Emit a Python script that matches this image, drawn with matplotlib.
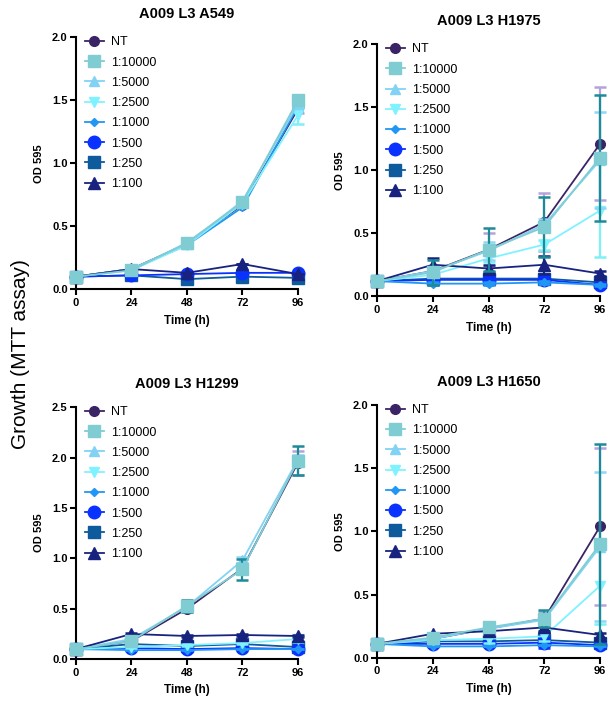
import numpy as np
import matplotlib
matplotlib.use("Agg")
import matplotlib.pyplot as plt
from matplotlib.lines import Line2D

plt.rcParams['font.family'] = ['Liberation Sans', 'DejaVu Sans']

hours = [0, 24, 48, 72, 96]
labels = ['NT', '1:10000', '1:5000', '1:2500', '1:1000', '1:500', '1:250', '1:100']
colors = ['#3b2466', '#7fcdd3', '#82d2f5', '#80f2ff', '#2196f3', '#0a32ff', '#0d5a9c', '#17237f']
err_colors = ['#b5a2dc', '#1d8a98', '#8fd6f3', '#7ff0f5', '#2196f3', '#0a32ff', '#0d5a9c', '#17237f']
markers = ['o', 's', '^', 'v', 'D', 'o', 's', '^']
msizes = [7, 8, 7, 7, 4.5, 9, 8, 8]
zorders = [4, 11, 9, 8, 7, 6, 5, 10]

titles = ['A009 L3 A549', 'A009 L3 H1975', 'A009 L3 H1299', 'A009 L3 H1650']
ymaxes = [2.0, 2.0, 2.5, 2.0]

# OD 595 per series (same order as labels)
a549 = [[0.10, 0.16, 0.36, 0.67, 1.43],
        [0.10, 0.15, 0.37, 0.69, 1.50],
        [0.10, 0.16, 0.36, 0.70, 1.47],
        [0.10, 0.15, 0.35, 0.68, 1.38],
        [0.10, 0.16, 0.35, 0.65, 1.45],
        [0.10, 0.11, 0.12, 0.13, 0.13],
        [0.10, 0.11, 0.08, 0.10, 0.09],
        [0.10, 0.16, 0.13, 0.20, 0.12]]
a549_err = [[0, 0.01, 0.02, 0.02, 0.03],
            [0, 0.01, 0.02, 0.03, 0.04],
            [0, 0.01, 0.01, 0.03, 0.03],
            [0, 0.01, 0.01, 0.02, 0.07],
            [0, 0, 0, 0, 0],
            [0, 0, 0, 0, 0],
            [0, 0, 0, 0, 0],
            [0, 0, 0, 0, 0]]

h1975 = [[0.12, 0.20, 0.37, 0.59, 1.21],
         [0.12, 0.19, 0.37, 0.55, 1.10],
         [0.12, 0.20, 0.36, 0.57, 1.08],
         [0.12, 0.17, 0.30, 0.41, 0.68],
         [0.12, 0.10, 0.10, 0.11, 0.09],
         [0.12, 0.13, 0.13, 0.13, 0.09],
         [0.12, 0.14, 0.14, 0.14, 0.11],
         [0.12, 0.25, 0.22, 0.25, 0.18]]
h1975_err = [[0, 0.04, 0.13, 0.23, 0.45],
             [0, 0.10, 0.17, 0.24, 0.50],
             [0, 0.03, 0.07, 0.04, 0.38],
             [0, 0.02, 0.03, 0.04, 0.37],
             [0, 0.01, 0.01, 0.01, 0.01],
             [0, 0.01, 0.01, 0.01, 0.01],
             [0, 0.01, 0.01, 0.01, 0.01],
             [0, 0.05, 0.03, 0.07, 0.02]]

h1299 = [[0.10, 0.18, 0.50, 0.90, 1.95],
         [0.10, 0.18, 0.53, 0.89, 1.97],
         [0.10, 0.20, 0.52, 0.98, 1.98],
         [0.10, 0.12, 0.14, 0.16, 0.20],
         [0.10, 0.09, 0.09, 0.10, 0.10],
         [0.10, 0.11, 0.10, 0.11, 0.10],
         [0.10, 0.15, 0.13, 0.15, 0.12],
         [0.10, 0.25, 0.23, 0.24, 0.23]]
h1299_err = [[0, 0.01, 0.03, 0.05, 0.12],
             [0, 0.01, 0.06, 0.10, 0.14],
             [0, 0.01, 0.02, 0.03, 0.05],
             [0, 0.01, 0.01, 0.01, 0.03],
             [0, 0, 0, 0, 0],
             [0, 0, 0, 0, 0],
             [0, 0, 0, 0, 0],
             [0, 0.01, 0.01, 0.01, 0.01]]

h1650 = [[0.11, 0.15, 0.23, 0.31, 1.04],
         [0.11, 0.16, 0.24, 0.31, 0.90],
         [0.11, 0.15, 0.23, 0.30, 0.88],
         [0.11, 0.14, 0.15, 0.17, 0.57],
         [0.11, 0.09, 0.09, 0.10, 0.09],
         [0.11, 0.11, 0.11, 0.12, 0.10],
         [0.11, 0.13, 0.13, 0.14, 0.12],
         [0.11, 0.19, 0.21, 0.24, 0.18]]
h1650_err = [[0, 0.01, 0.01, 0.05, 0.62],
             [0, 0.01, 0.01, 0.07, 0.79],
             [0, 0.01, 0.01, 0.04, 0.59],
             [0, 0.01, 0.03, 0.04, 0.30],
             [0, 0, 0, 0, 0],
             [0, 0.01, 0.02, 0.04, 0.01],
             [0, 0, 0, 0, 0],
             [0, 0.01, 0.01, 0.03, 0.02]]

panels = [(a549, a549_err), (h1975, h1975_err), (h1299, h1299_err), (h1650, h1650_err)]
rects = [[0.125, 0.588, 0.365, 0.359],
         [0.620, 0.578, 0.367, 0.359],
         [0.125, 0.061, 0.365, 0.359],
         [0.620, 0.063, 0.367, 0.360]]

fig = plt.figure(figsize=(6.08, 7.02), dpi=100)

for p, (vals, errs) in enumerate(panels):
    ax = fig.add_axes(rects[p])
    for i in range(len(labels)):
        ax.errorbar(hours, vals[i], yerr=errs[i], fmt='none', ecolor=err_colors[i],
                    elinewidth=1.6, capsize=4, capthick=1.8, zorder=zorders[i] - 0.5, clip_on=False)
        ax.plot(hours, vals[i], color=colors[i], marker=markers[i], ms=msizes[i], lw=1.3,
                zorder=zorders[i], clip_on=False)
    handles = [Line2D([], [], color=colors[i], marker=markers[i], ms=msizes[i], lw=1.3)
               for i in range(len(labels))]
    ax.legend(handles, labels, loc='upper left', bbox_to_anchor=(-0.01, 1.048), frameon=False,
              fontsize=9, handlelength=1.5, handletextpad=0.6, labelspacing=0.66)
    ax.set_xlim(0, 96)
    ax.set_ylim(0, ymaxes[p])
    ax.set_xticks(hours)
    ax.set_yticks(np.arange(0, ymaxes[p] + 0.01, 0.5))
    ax.yaxis.set_major_formatter(matplotlib.ticker.FormatStrFormatter('%.1f'))
    ax.spines['top'].set_visible(False)
    ax.spines['right'].set_visible(False)
    ax.spines['left'].set_linewidth(1.5)
    ax.spines['bottom'].set_linewidth(1.5)
    ax.tick_params(width=1.5, length=4, labelsize=8, pad=2)
    for t in ax.get_xticklabels() + ax.get_yticklabels():
        t.set_fontweight('bold')
    ax.set_title(titles[p], fontsize=10.5, fontweight='bold', pad=14)
    ax.set_ylabel('OD 595', fontsize=8, fontweight='bold', labelpad=6)
    ax.set_xlabel('Time (h)', fontsize=8.5, fontweight='bold', labelpad=5)

fig.text(0.033, 0.495, 'Growth (MTT assay)', rotation=90, fontsize=15, ha='center', va='center')

fig.savefig('out.png', dpi=100)
